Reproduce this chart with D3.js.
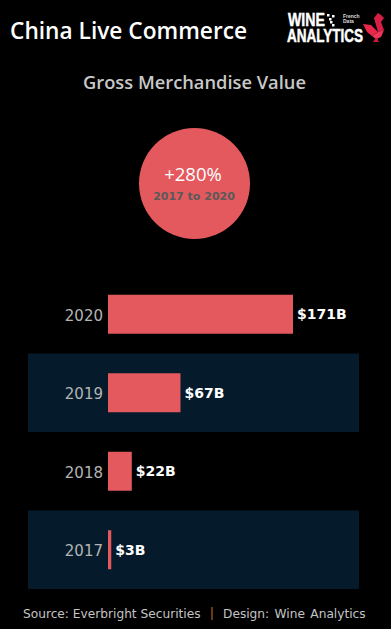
<!DOCTYPE html>
<html>
<head>
<meta charset="utf-8">
<script src="https://cdn.jsdelivr.net/npm/d3@7"></script>
<style>
html, body { margin: 0; padding: 0; background: #000; overflow: hidden; }
svg { display: block; }
</style>
</head>
<body>
<div id="container"></div>
<script>
// Gross merchandise value, $B
var years = ["2020", "2019", "2018", "2017"];
var gmv = [171, 67, 22, 3];
var valueLabels = ["$171B", "$67B", "$22B", "$3B"];
var stripedYears = ["2019", "2017"];

var red = "#e4595d";
var band = "#051b2b";

var svg = d3.select("#container").append("svg")
    .attr("width", 391)
    .attr("height", 629);

svg.append("rect").attr("width", 391).attr("height", 629).attr("fill", "#000");

var y = d3.scaleBand()
    .domain(years)
    .range([275, 589])
    .paddingInner(0)
    .paddingOuter(0);

var x = d3.scaleLinear()
    .domain([0, 171])
    .range([108, 293]);

// row stripes
svg.selectAll(".stripe")
    .data(stripedYears)
    .enter()
    .append("rect")
    .attr("class", "stripe")
    .attr("x", 28)
    .attr("width", 331)
    .attr("y", d => y(d))
    .attr("height", y.bandwidth())
    .attr("fill", band);

// bars
svg.selectAll(".bar")
    .data(years)
    .enter()
    .append("rect")
    .attr("class", "bar")
    .attr("x", x(0))
    .attr("y", d => y(d) + y.bandwidth() / 2 - 19.5)
    .attr("height", 39)
    .attr("width", (d, i) => x(gmv[i]) - x(0))
    .attr("fill", red);

// year axis
var yAxis = svg.append("g")
    .attr("transform", "translate(108,0)")
    .call(d3.axisLeft(y).tickSize(0).tickPadding(5));
yAxis.select(".domain").remove();
yAxis.selectAll("text")
    .attr("font-family", "'DejaVu Sans'")
    .attr("font-size", 15)
    .attr("dy", "0.42em")
    .attr("fill", "#b4b4b4");

// value labels
svg.selectAll(".value")
    .data(years)
    .enter()
    .append("text")
    .attr("class", "value")
    .attr("x", (d, i) => x(gmv[i]) + 4)
    .attr("y", d => y(d) + y.bandwidth() / 2)
    .attr("dy", "0.35em")
    .attr("font-family", "'DejaVu Sans'")
    .attr("font-weight", "bold")
    .attr("font-size", 14)
    .attr("fill", "#fff")
    .text((d, i) => valueLabels[i]);

// headings
svg.append("text")
    .attr("x", 10).attr("y", 39)
    .attr("font-family", "'Open Sans'")
    .attr("font-weight", 600)
    .attr("font-size", 22.7)
    .attr("fill", "#fff")
    .text("China Live Commerce");

svg.append("text")
    .attr("x", 194.5).attr("y", 89)
    .attr("text-anchor", "middle")
    .attr("font-family", "'Open Sans'")
    .attr("font-weight", 600)
    .attr("font-size", 18.3)
    .attr("fill", "#c8c8c8")
    .text("Gross Merchandise Value");

// growth bubble
svg.append("circle")
    .attr("cx", 194.5).attr("cy", 183.5).attr("r", 55.5)
    .attr("fill", red);

svg.append("text")
    .attr("x", 193).attr("y", 181)
    .attr("text-anchor", "middle")
    .attr("font-family", "'Open Sans'")
    .attr("font-weight", 500)
    .attr("font-size", 18.5)
    .attr("fill", "#fff")
    .text("+280%");

svg.append("text")
    .attr("x", 194).attr("y", 200)
    .attr("text-anchor", "middle")
    .attr("font-family", "'DejaVu Sans'")
    .attr("font-weight", "bold")
    .attr("font-size", 11)
    .attr("fill", "#5a5a5a")
    .text("2017 to 2020");

// footer
svg.append("text")
    .attr("x", 23).attr("y", 618)
    .attr("font-family", "'DejaVu Sans'")
    .attr("font-size", 12.2)
    .attr("fill", "#c4c4c4")
    .text("Source: Everbright Securities");

svg.append("rect")
    .attr("x", 211.5).attr("y", 607).attr("width", 1).attr("height", 13)
    .attr("fill", "#c8791f");

svg.append("text")
    .attr("x", 223).attr("y", 618)
    .attr("font-family", "'DejaVu Sans'")
    .attr("font-size", 12.2)
    .attr("word-spacing", 1.5)
    .attr("fill", "#c4c4c4")
    .text("Design: Wine Analytics");

// logo
var logo = svg.append("g");
logo.append("text")
    .attr("x", 288).attr("y", 26)
    .attr("font-family", "'Liberation Sans'")
    .attr("font-weight", "bold")
    .attr("font-size", 18)
    .attr("fill", "#fff")
    .attr("stroke", "#fff")
    .attr("stroke-width", 0.5)
    .attr("textLength", 37)
    .attr("lengthAdjust", "spacingAndGlyphs")
    .text("WINE");
logo.append("text")
    .attr("x", 287).attr("y", 41.5)
    .attr("font-family", "'Liberation Sans'")
    .attr("font-weight", "bold")
    .attr("font-size", 18)
    .attr("fill", "#fff")
    .attr("stroke", "#fff")
    .attr("stroke-width", 0.5)
    .attr("textLength", 76)
    .attr("lengthAdjust", "spacingAndGlyphs")
    .text("ANALYTICS");
logo.selectAll(".tag")
    .data([["French", 18], ["Data", 23]])
    .enter()
    .append("text")
    .attr("class", "tag")
    .attr("x", 343)
    .attr("y", d => d[1])
    .attr("font-family", "'Liberation Sans'")
    .attr("font-weight", "bold")
    .attr("font-size", 5)
    .attr("fill", "#ddd")
    .text(d => d[0]);

// little dots next to WINE
logo.selectAll(".dot")
    .data([[327, 14], [332, 15], [329, 18], [330, 21], [332, 24]])
    .enter()
    .append("rect")
    .attr("class", "dot")
    .attr("x", d => d[0]).attr("y", d => d[1])
    .attr("width", 2.5).attr("height", 2.5)
    .attr("fill", "#fff");

// rooster
var rooster = [
    ["M363,24 L371,25 L378,32 L372,36 L367,32 Z", "#e8274b"],
    ["M374,18 L378,13 L381,15 L384,18 L381,22 L384,30 L378,32 Z", "#d81e45"],
    ["M372,36 L378,32 L384,30 L381,37 L376,39 Z", "#f03658"],
    ["M375,39 L378,38 L378,41 L380,42 L373,42 Z", "#c81a3e"]
];
logo.selectAll(".rooster")
    .data(rooster)
    .enter()
    .append("path")
    .attr("class", "rooster")
    .attr("d", d => d[0])
    .attr("fill", d => d[1]);
</script>
</body>
</html>
